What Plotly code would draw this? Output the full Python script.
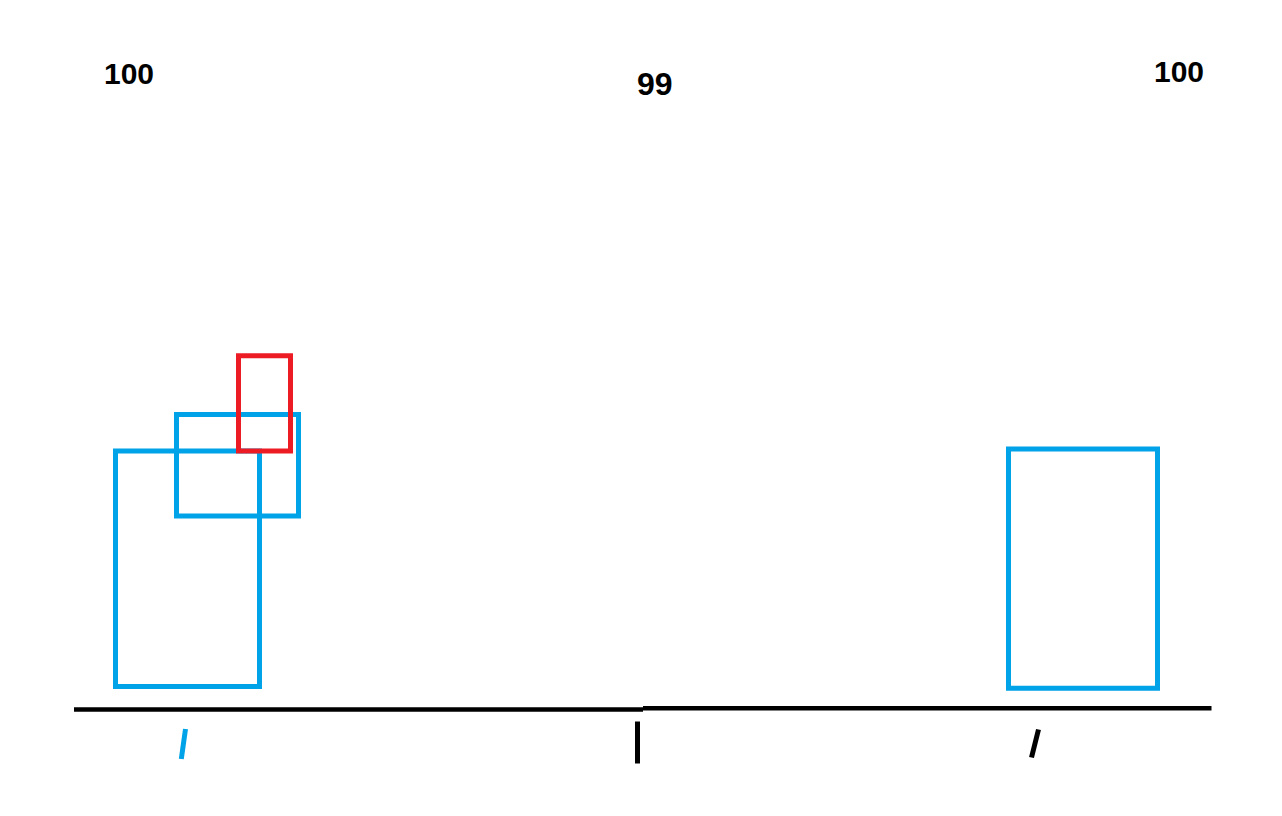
import plotly.graph_objects as go

# canvas size (value units == pixels; y measured from top)
W, H = 1282, 816

# value labels above the three groups
label_text = ["100", "99", "100"]
label_x = [129, 655, 1179]
label_y = [73, 84, 71]
label_size = [30, 32, 30]

# boxes (outlines)
box_x0 = [115.5, 176.5, 238.5, 1008.5]
box_x1 = [259.5, 298.5, 290.5, 1157.5]
box_y0 = [451, 414.5, 355.8, 449]
box_y1 = [686.5, 516, 451, 688.3]
box_color = ["#00A2E8", "#00A2E8", "#ED1C24", "#00A2E8"]

# baseline segments
base_x0 = [74, 643]
base_x1 = [643, 1211.5]
base_y = [709.5, 708.3]

# tick marks below baseline
tick_xa = [185.5, 637.5, 1038.5]
tick_ya = [729, 721.5, 729.5]
tick_xb = [181.3, 637.5, 1031.5]
tick_yb = [759, 763.5, 757.5]
tick_color = ["#00A2E8", "#000000", "#000000"]

fig = go.Figure()

for x0, y0, x1, y1 in zip(base_x0, base_y, base_x1, base_y):
    fig.add_trace(go.Scatter(x=[x0, x1], y=[y0, y1], mode="lines",
                             line=dict(color="#000000", width=4.5),
                             hoverinfo="skip", showlegend=False))

for xa, ya, xb, yb, c in zip(tick_xa, tick_ya, tick_xb, tick_yb, tick_color):
    fig.add_trace(go.Scatter(x=[xa, xb], y=[ya, yb], mode="lines",
                             line=dict(color=c, width=5),
                             hoverinfo="skip", showlegend=False))

for x0, x1, y0, y1, c in zip(box_x0, box_x1, box_y0, box_y1, box_color):
    fig.add_shape(type="rect", xref="x", yref="y", x0=x0, x1=x1, y0=y0, y1=y1,
                  line=dict(color=c, width=5), fillcolor="rgba(0,0,0,0)")

for t, x, y, s in zip(label_text, label_x, label_y, label_size):
    fig.add_annotation(x=x, y=y, xref="x", yref="y", text="<b>%s</b>" % t,
                       showarrow=False, xanchor="center", yanchor="middle",
                       font=dict(family="Liberation Sans, Arial, sans-serif",
                                 size=s, color="#000000"))

fig.update_layout(
    width=W, height=H,
    margin=dict(l=0, r=0, t=0, b=0, pad=0),
    paper_bgcolor="white", plot_bgcolor="white",
    xaxis=dict(range=[0, W], visible=False, fixedrange=True),
    yaxis=dict(range=[H, 0], visible=False, fixedrange=True),
    showlegend=False,
)

fig.write_html("out.html", config={"displayModeBar": False},
               post_script="document.body.style.margin='0';document.body.style.overflow='hidden';")
